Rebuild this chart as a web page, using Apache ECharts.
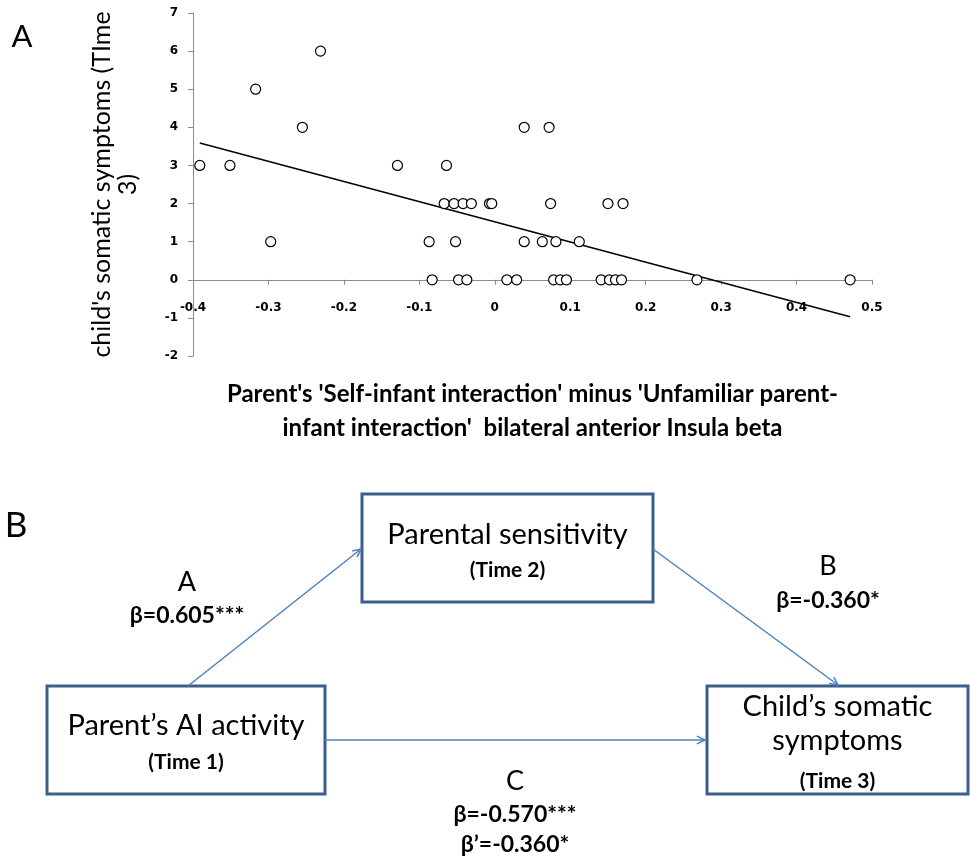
<!DOCTYPE html>
<html>
<head>
<meta charset="utf-8">
<script src="https://cdn.jsdelivr.net/npm/echarts@6/dist/echarts.min.js"></script>
<style>
  html, body { margin: 0; padding: 0; background: #fff; }
  #main { width: 970px; height: 856px; }
</style>
</head>
<body>
<div id="main"></div>
<script>
// ---- panel A data ----
const pointsX = [
  -0.391, -0.351, -0.129, -0.064,                    // y = 3
  -0.317,                                            // y = 5
  -0.255, 0.039, 0.072,                              // y = 4
  -0.231,                                            // y = 6
  -0.067, -0.054, -0.042, -0.031, -0.007, -0.004, 0.074, 0.150, 0.170, // y = 2
  -0.297, -0.087, -0.052, 0.039, 0.063, 0.081, 0.112,                 // y = 1
  -0.083, -0.048, -0.037, 0.016, 0.029, 0.078, 0.087, 0.095, 0.141,
  0.152, 0.160, 0.168, 0.268, 0.471                                    // y = 0
];
const pointsY = [
  3, 3, 3, 3,
  5,
  4, 4, 4,
  6,
  2, 2, 2, 2, 2, 2, 2, 2, 2,
  1, 1, 1, 1, 1, 1, 1,
  0, 0, 0, 0, 0, 0, 0, 0, 0,
  0, 0, 0, 0, 0
];
const trendX = [-0.391, 0.471];
const trendY = [3.59, -0.97];
const xTicks = [-0.4, 0.5, 0.1];   // min, max, step
const yTicks = [-2, 7, 1];

const yTitle = "child's somatic symptoms (TIme\n3)";
const xTitle = "Parent's 'Self-infant interaction' minus 'Unfamiliar parent-\ninfant interaction'  bilateral anterior Insula beta";

// ---- panel B data ----
const nodeNames = ['Parent\u2019s AI activity', 'Parental sensitivity', 'Child\u2019s somatic\nsymptoms'];
const nodeTimes = ['(Time 1)', '(Time 2)', '(Time 3)'];
const pathNames = ['A', 'B', 'C'];
const pathBetas = ['\u03b2=0.605***', '\u03b2=-0.360*', '\u03b2=-0.570***\n\u03b2\u2019=-0.360*'];

// layout of the diagram (pixels)
const boxes = [
  { x: 47, y: 686, w: 278, h: 108, ty: 726, tty: 762, lh: 0 },
  { x: 362, y: 494, w: 291, h: 108, ty: 535, tty: 570, lh: 0 },
  { x: 707, y: 686, w: 261, h: 108, ty: 724, tty: 781, lh: 34 }
];
const arrows = [
  [188, 686, 361, 549],
  [653, 549, 838, 685],
  [325, 740, 705, 740]
];
const pathLabelPos = [[187, 582, 616], [828, 566, 601], [515, 781, 815]];

const FONT = 'Lato, "Noto Sans", sans-serif';
const boxColor = '#3b5e8e';
const arrowColor = '#4f81bd';

const scatterData = pointsX.map((x, i) => [x, pointsY[i]]);
const trendData = trendX.map((x, i) => [x, trendY[i]]);

function arrowEls(a) {
  const [x1, y1, x2, y2] = a;
  const ang = Math.atan2(y2 - y1, x2 - x1);
  const len = 9, spread = 0.45;
  const p1 = [x2 - len * Math.cos(ang - spread), y2 - len * Math.sin(ang - spread)];
  const p2 = [x2 - len * Math.cos(ang + spread), y2 - len * Math.sin(ang + spread)];
  return [
    { type: 'line', shape: { x1, y1, x2, y2 }, style: { stroke: arrowColor, lineWidth: 1.5 } },
    { type: 'polyline', shape: { points: [p1, [x2, y2], p2] }, style: { stroke: arrowColor, lineWidth: 1.5, fill: null } }
  ];
}

const graphics = [];
graphics.push({ type: 'text', style: { text: 'A', x: 22, y: 37, font: '31px ' + FONT, fill: '#000', align: 'center', verticalAlign: 'middle' } });
graphics.push({ type: 'text', style: { text: 'B', x: 16, y: 526, font: '35px ' + FONT, fill: '#000', align: 'center', verticalAlign: 'middle' } });

boxes.forEach((b, i) => {
  graphics.push({ type: 'rect', shape: { x: b.x, y: b.y, width: b.w, height: b.h },
    style: { fill: '#fff', stroke: boxColor, lineWidth: 3 } });
  graphics.push({ type: 'text', style: { text: nodeNames[i], x: b.x + b.w / 2, y: b.ty,
    font: '29px ' + FONT, fill: '#000', align: 'center', verticalAlign: 'middle', lineHeight: b.lh || 32 } });
  graphics.push({ type: 'text', style: { text: nodeTimes[i], x: b.x + b.w / 2, y: b.tty,
    font: 'bold 21px ' + FONT, fill: '#000', align: 'center', verticalAlign: 'middle' } });
});

arrows.forEach(a => arrowEls(a).forEach(e => graphics.push(e)));

pathNames.forEach((p, i) => {
  const [x, y1, y2] = pathLabelPos[i];
  graphics.push({ type: 'text', style: { text: p, x: x, y: y1, font: '27px ' + FONT, fill: '#000', align: 'center', verticalAlign: 'middle' } });
  graphics.push({ type: 'text', style: { text: pathBetas[i], x: x, y: y2 - 15, font: 'bold 23px ' + FONT, fill: '#000',
    align: 'center', verticalAlign: 'top', lineHeight: 30 } });
});

const chart = echarts.init(document.getElementById('main'), null, { renderer: 'canvas' });

const axisLabelStyle = { color: '#000', fontFamily: 'DejaVu Sans', fontWeight: 'bold', fontSize: 12 };

chart.setOption({
  backgroundColor: '#fff',
  animation: false,
  grid: { left: 193, right: 98, top: 13, bottom: 500 },
  xAxis: {
    type: 'value',
    min: xTicks[0], max: xTicks[1], interval: xTicks[2],
    name: xTitle,
    nameLocation: 'middle',
    nameGap: 21,
    nameTextStyle: { fontFamily: FONT, fontWeight: 'bold', fontSize: 24, color: '#000', lineHeight: 34 },
    axisLine: { onZero: true, lineStyle: { color: '#8c8c8c', width: 1 } },
    axisTick: { show: true, length: 5, lineStyle: { color: '#8c8c8c' } },
    axisLabel: Object.assign({ margin: -54 }, axisLabelStyle),
    splitLine: { show: false }
  },
  yAxis: {
    type: 'value',
    min: yTicks[0], max: yTicks[1], interval: yTicks[2],
    name: yTitle,
    nameLocation: 'middle',
    nameRotate: 90,
    nameGap: 52,
    nameTextStyle: { fontFamily: FONT, fontSize: 25, color: '#000', lineHeight: 26 },
    axisLine: { show: true, onZero: false, lineStyle: { color: '#8c8c8c', width: 1 } },
    axisTick: { show: true, length: 5, lineStyle: { color: '#8c8c8c' } },
    axisLabel: Object.assign({ margin: 15 }, axisLabelStyle),
    splitLine: { show: false }
  },
  series: [
    {
      name: 'trend',
      type: 'line',
      data: trendData,
      showSymbol: false,
      lineStyle: { color: '#000', width: 1.5 },
      z: 1
    },
    {
      name: 'symptoms',
      type: 'scatter',
      data: scatterData,
      symbol: 'circle',
      symbolSize: 10,
      itemStyle: { color: '#fff', borderColor: '#000', borderWidth: 1.2, opacity: 1 },
      z: 2
    }
  ],
  graphic: graphics
});
</script>
</body>
</html>
